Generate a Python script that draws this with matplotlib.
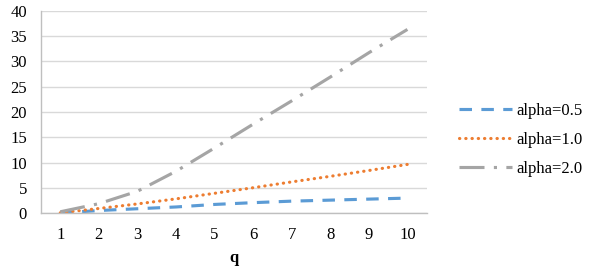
import matplotlib
matplotlib.use("Agg")
import matplotlib.pyplot as plt

q = [1, 2, 3, 4, 5, 6, 7, 8, 9, 10]
labels = ["alpha=0.5", "alpha=1.0", "alpha=2.0"]
alpha05 = [0.05, 0.55, 0.9, 1.25, 1.75, 2.1, 2.4, 2.6, 2.8, 3.0]
alpha10 = [0.1, 0.95, 1.85, 2.85, 3.95, 5.05, 6.2, 7.3, 8.45, 9.65]
alpha20 = [0.3, 1.9, 4.35, 8.3, 12.9, 17.6, 22.2, 26.9, 31.7, 36.3]
yticks = [0, 5, 10, 15, 20, 25, 30, 35, 40]

plt.rcParams['font.family'] = ['Liberation Serif', 'DejaVu Serif']

fig = plt.figure(figsize=(5.91, 2.70), dpi=100)
ax = fig.add_axes([41/591, 1-213.3/270, (426.7-41)/591, (213.3-10.7)/270])

lw = 2.25
ax.plot(q, alpha05, color='#5B9BD5', lw=lw, linestyle=(0, (4, 3)), label=labels[0])
ax.plot(q, alpha10, color='#ED7D31', lw=lw, linestyle=(0, (0.1, 1.9)),
        dash_capstyle='round', label=labels[1])
ax.plot(q, alpha20, color='#A5A5A5', lw=lw, linestyle=(0, (8, 3, 1, 3)), label=labels[2])

ax.set_xlim(0.5, 10.5)
ax.set_ylim(0, 40)
ax.set_yticks(yticks)
ax.set_xticks(q)
ax.set_xticklabels([str(v) for v in q])
ax.yaxis.grid(True, color='#D9D9D9', lw=1.0)
ax.set_axisbelow(True)
for s in ['top', 'right']:
    ax.spines[s].set_visible(False)
for s in ['left', 'bottom']:
    ax.spines[s].set_color('#BFBFBF')
    ax.spines[s].set_linewidth(1.0)
ax.tick_params(axis='both', length=0, labelsize=12, colors='black')
ax.tick_params(axis='x', pad=10)
ax.tick_params(axis='y', pad=10)
ax.set_xlabel('q', fontsize=12, fontweight='bold', labelpad=5)

leg = fig.legend(loc='center left', bbox_to_anchor=(459/591, 1-140/270),
                 frameon=False, fontsize=12, handlelength=3.2, handletextpad=0.25,
                 labelspacing=0.78, borderpad=0, borderaxespad=0)

fig.savefig('out.png', dpi=100)
